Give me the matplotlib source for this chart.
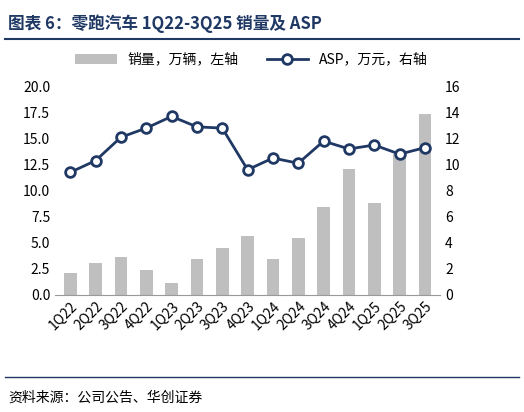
import matplotlib
matplotlib.use("Agg")
import matplotlib.pyplot as plt
from matplotlib.lines import Line2D

plt.rcParams['font.family'] = ['Noto Sans CJK SC', 'DejaVu Sans']

quarters = ['1Q22','2Q22','3Q22','4Q22','1Q23','2Q23','3Q23','4Q23','1Q24','2Q24','3Q24','4Q24','1Q25','2Q25','3Q25']
sales = [2.1, 3.0, 3.6, 2.4, 1.1, 3.4, 4.5, 5.6, 3.4, 5.4, 8.4, 12.1, 8.8, 13.5, 17.4]
asp = [9.4, 10.3, 12.1, 12.8, 13.7, 12.9, 12.8, 9.6, 10.5, 10.1, 11.8, 11.2, 11.5, 10.8, 11.3]

navy = '#1f3864'
fig = plt.figure(figsize=(5.24, 4.12), dpi=100)
fig.text(0.015, 0.965, '图表 6：零跑汽车 1Q22-3Q25 销量及 ASP', fontsize=12, fontweight='bold', color=navy, va='top')
fig.add_artist(Line2D([0.01, 0.99], [0.905, 0.905], color=navy, lw=1.5))
fig.add_artist(Line2D([0.01, 0.99], [0.085, 0.085], color=navy, lw=1))
fig.text(0.015, 0.035, '资料来源：公司公告、华创证券', fontsize=10, style='italic', va='center')

ax = fig.add_axes([0.105, 0.285, 0.735, 0.505])
ax2 = ax.twinx()
x = range(len(quarters))
ax.bar(x, sales, width=0.5, color='#bfbfbf', label='销量，万辆，左轴')
ax2.plot(x, asp, color=navy, lw=2, marker='o', ms=7, mfc='white', mec=navy, mew=2, label='ASP，万元，右轴')
ax.set_ylim(0, 20); ax.set_yticks([i*2.5 for i in range(9)])
ax.set_yticklabels([f'{i*2.5:.1f}' for i in range(9)])
ax2.set_ylim(0, 16); ax2.set_yticks(range(0, 17, 2))
ax.set_xlim(-0.6, len(quarters)-0.4)
ax.set_xticks(list(x)); ax.set_xticklabels(quarters, rotation=45, ha='right', rotation_mode='anchor')
for a in (ax, ax2):
    for s in a.spines.values():
        s.set_visible(False)
    a.tick_params(length=0, labelsize=10)
ax.spines['bottom'].set_visible(True); ax.spines['bottom'].set_color('#999999')
h1, l1 = ax.get_legend_handles_labels(); h2, l2 = ax2.get_legend_handles_labels()
fig.legend(h1+h2, l1+l2, loc='center', bbox_to_anchor=(0.48, 0.855), ncol=2, frameon=False, fontsize=10, handlelength=3, columnspacing=2)
fig.savefig('out.png')
